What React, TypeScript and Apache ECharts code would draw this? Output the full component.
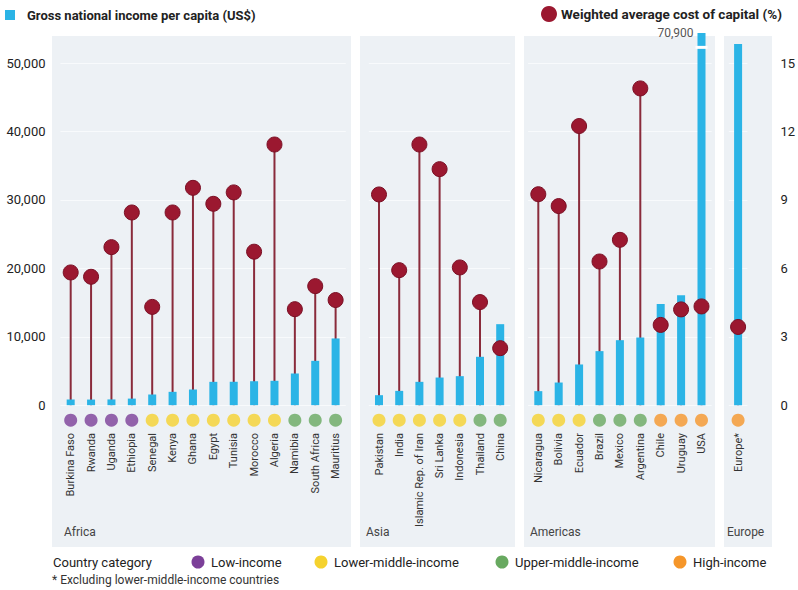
import React, { useEffect, useRef } from 'react';
import * as echarts from 'echarts';

// ---------- data ----------
const africaCountries = ['Burkina Faso', 'Rwanda', 'Uganda', 'Ethiopia', 'Senegal', 'Kenya', 'Ghana', 'Egypt', 'Tunisia', 'Morocco', 'Algeria', 'Namibia', 'South Africa', 'Mauritius'];
const africaGni = [830, 820, 840, 960, 1560, 1950, 2290, 3410, 3420, 3500, 3560, 4630, 6480, 9750];
const africaWacc = [5.82, 5.63, 6.93, 8.45, 4.31, 8.45, 9.53, 8.83, 9.33, 6.73, 11.43, 4.21, 5.22, 4.61];
const africaIncome = ['low', 'low', 'low', 'low', 'lmi', 'lmi', 'lmi', 'lmi', 'lmi', 'lmi', 'lmi', 'umi', 'umi', 'umi'];

const asiaCountries = ['Pakistan', 'India', 'Islamic Rep. of Iran', 'Sri Lanka', 'Indonesia', 'Thailand', 'China'];
const asiaGni = [1460, 2090, 3410, 4040, 4240, 7070, 11840];
const asiaWacc = [9.24, 5.92, 11.43, 10.35, 6.04, 4.52, 2.5];
const asiaIncome = ['lmi', 'lmi', 'lmi', 'lmi', 'lmi', 'umi', 'umi'];

const americasCountries = ['Nicaragua', 'Bolivia', 'Ecuador', 'Brazil', 'Mexico', 'Argentina', 'Chile', 'Uruguay', 'USA'];
const americasGni = [2050, 3310, 5950, 7900, 9500, 9890, 14770, 16080, 70900];
const americasWacc = [9.25, 8.73, 12.24, 6.3, 7.25, 13.89, 3.52, 4.2, 4.33];
const americasIncome = ['lmi', 'lmi', 'lmi', 'umi', 'umi', 'umi', 'high', 'high', 'high'];

const europeCountries = ['Europe*'];
const europeGni = [52800];
const europeWacc = [3.43];
const europeIncome = ['high'];

const regionNames = ['Africa', 'Asia', 'Americas', 'Europe'];
const gniTicks = [0, 10000, 20000, 30000, 40000, 50000];
const waccTicks = [0, 3, 6, 9, 12, 15];
const incomeKeys = ['low', 'lmi', 'umi', 'high'];
const incomeLabels = ['Low-income', 'Lower-middle-income', 'Upper-middle-income', 'High-income'];
const usaBreakValue = 52300;

// ---------- style / layout ----------
const INCOME_COLORS: Record<string, string> = { low: '#7b3f98', lmi: '#f5d22e', umi: '#68a960', high: '#f5962a' };
const BLUE = '#2bb4e6';
const RED = '#9b1830';
const STEM = '#8a2b3b';
const PANEL = '#edf1f5';
const FONT = 'Roboto';

const gridLeft = [60.5, 368.9, 528.1, 728.8];
const gridWidth = [285.3, 141.4, 183.6, 20.4];
const panelX = [52, 360, 524, 724];
const panelW = [299, 155, 191, 48];
const regionLabelX = [64, 366, 530, 727];
const legendDotX = [198, 321, 502, 680];
const GRID_TOP = 33;
const GRID_H = 509;
const CAT_Y = -2190;

const regions = [
  { c: africaCountries, g: africaGni, w: africaWacc, inc: africaIncome },
  { c: asiaCountries, g: asiaGni, w: asiaWacc, inc: asiaIncome },
  { c: americasCountries, g: americasGni, w: americasWacc, inc: americasIncome },
  { c: europeCountries, g: europeGni, w: europeWacc, inc: europeIncome },
];

export default function App() {
  const ref = useRef<HTMLDivElement>(null);
  useEffect(() => {
    document.body.style.margin = '0';
    const chart = echarts.init(ref.current!, undefined, { renderer: 'svg' });
    const grid: any[] = [];
    const xAxis: any[] = [];
    const yAxis: any[] = [];
    const series: any[] = [];
    regions.forEach((r, gi) => {
      grid.push({ left: gridLeft[gi], width: gridWidth[gi], top: GRID_TOP, height: GRID_H, containLabel: false });
      xAxis.push({
        type: 'category', gridIndex: gi, data: r.c, position: 'bottom', offset: -115,
        axisLine: { show: false, onZero: false }, axisTick: { show: false },
        axisLabel: { interval: 0, rotate: 90, margin: 6, fontSize: 11, color: '#333', fontFamily: FONT },
      });
      yAxis.push({
        type: 'value', gridIndex: gi, position: 'left', min: -20000, max: 54400, interval: 10000,
        axisLine: { show: false }, axisTick: { show: false },
        axisLabel: {
          show: gi === 0, margin: 15, fontSize: 13, color: '#222', fontFamily: FONT,
          formatter: (v: number) => (gniTicks.includes(v) ? v.toLocaleString('en-US') : ''),
        },
        splitLine: {
          show: true,
          lineStyle: {
            width: 1,
            color: ['rgba(0,0,0,0)', 'rgba(0,0,0,0)', '#f8fafc', '#f8fafc', '#f8fafc', '#f8fafc', '#f8fafc', '#f8fafc', 'rgba(0,0,0,0)'],
          },
        },
      });
      yAxis.push({
        type: 'value', gridIndex: gi, position: 'right', min: -6, max: 16.32, interval: 3,
        axisLine: { show: false }, axisTick: { show: false }, splitLine: { show: false },
        axisLabel: {
          show: gi === 3, margin: 33, fontSize: 13, color: '#222', fontFamily: FONT,
          formatter: (v: number) => (waccTicks.includes(v) ? String(v) : ''),
        },
      });
      series.push({
        type: 'custom', name: 'stem', xAxisIndex: gi, yAxisIndex: gi * 2 + 1, z: 1,
        data: r.w.map((v, i) => [i, v]),
        encode: { x: 0, y: 1 },
        renderItem: (params: any, api: any) => {
          const p0 = api.coord([api.value(0), 0]);
          const p1 = api.coord([api.value(0), api.value(1)]);
          return { type: 'line', shape: { x1: p0[0], y1: p0[1], x2: p1[0], y2: p1[1] }, style: { stroke: STEM, lineWidth: 2 } };
        },
        silent: true,
      });
      series.push({
        type: 'bar', name: 'Gross national income per capita (US$)', xAxisIndex: gi, yAxisIndex: gi * 2, z: 2,
        data: r.g, barWidth: 8, itemStyle: { color: BLUE }, clip: true,
      });
      series.push({
        type: 'scatter', name: 'Weighted average cost of capital (%)', xAxisIndex: gi, yAxisIndex: gi * 2 + 1, z: 3,
        data: r.w, symbolSize: 15, itemStyle: { color: RED, borderColor: '#7a0f24', borderWidth: 1, opacity: 1 },
      });
      series.push({
        type: 'scatter', name: 'category', xAxisIndex: gi, yAxisIndex: gi * 2, z: 3,
        data: r.inc.map((c, i) => ({ value: [i, CAT_Y], itemStyle: { color: INCOME_COLORS[c] } })),
        symbolSize: 13,
      });
    });

    chart.setOption({
      animation: false,
      textStyle: { fontFamily: FONT },
      grid, xAxis, yAxis, series,
    });

    // layout-dependent decorations
    const usaIdx = americasCountries.indexOf('USA');
    const topPt = chart.convertToPixel({ xAxisIndex: 2, yAxisIndex: 4 }, [usaIdx, 54400]) as number[];
    const brkPt = chart.convertToPixel({ xAxisIndex: 2, yAxisIndex: 4 }, [usaIdx, usaBreakValue]) as number[];

    const graphic: any[] = [];
    panelX.forEach((x, i) => {
      graphic.push({ type: 'rect', id: 'panel' + i, z: -10, shape: { x, y: 36, width: panelW[i], height: 511 }, style: { fill: PANEL } });
      graphic.push({
        type: 'text', id: 'region' + i, x: regionLabelX[i], y: 532,
        style: { text: regionNames[i], fill: '#444', font: `12px ${FONT}`, verticalAlign: 'middle' },
      });
    });
    graphic.push({ type: 'rect', id: 'usaBreak', z: 10, shape: { x: brkPt[0] - 6, y: brkPt[1] - 1.5, width: 12, height: 3 }, style: { fill: '#ffffff' } });
    graphic.push({
      type: 'text', id: 'usaLabel', z: 10, x: topPt[0] - 8, y: topPt[1],
      style: { text: (70900).toLocaleString('en-US'), fill: '#555', font: `12px ${FONT}`, align: 'right', verticalAlign: 'middle' },
    });
    // top legends
    graphic.push({ type: 'rect', id: 'lg1', shape: { x: 5, y: 10, width: 10, height: 10 }, style: { fill: BLUE } });
    graphic.push({ type: 'text', id: 'lg1t', x: 27, y: 15, style: { text: 'Gross national income per capita (US$)', fill: '#222', font: `bold 13px ${FONT}`, verticalAlign: 'middle' } });
    graphic.push({ type: 'circle', id: 'lg2', shape: { cx: 549, cy: 14, r: 8 }, style: { fill: RED } });
    graphic.push({ type: 'text', id: 'lg2t', x: 561, y: 14, style: { text: 'Weighted average cost of capital (%)', fill: '#222', font: `bold 13.5px ${FONT}`, verticalAlign: 'middle' } });
    // bottom legend
    graphic.push({ type: 'text', id: 'cc', x: 53, y: 562, style: { text: 'Country category', fill: '#222', font: `13px ${FONT}`, verticalAlign: 'middle' } });
    incomeKeys.forEach((k, i) => {
      graphic.push({ type: 'circle', id: 'ld' + i, shape: { cx: legendDotX[i], cy: 562, r: 6.5 }, style: { fill: INCOME_COLORS[k] } });
      graphic.push({ type: 'text', id: 'lt' + i, x: legendDotX[i] + 13, y: 562, style: { text: incomeLabels[i], fill: '#222', font: `13px ${FONT}`, verticalAlign: 'middle' } });
    });
    graphic.push({ type: 'text', id: 'fn', x: 52, y: 580, style: { text: '* Excluding lower-middle-income countries', fill: '#333', font: `12px ${FONT}`, verticalAlign: 'middle' } });

    chart.setOption({ graphic });
    return () => chart.dispose();
  }, []);
  return <div ref={ref} style={{ position: 'fixed', left: 0, top: 0, width: 798, height: 590, background: '#fff' }} />;
}
